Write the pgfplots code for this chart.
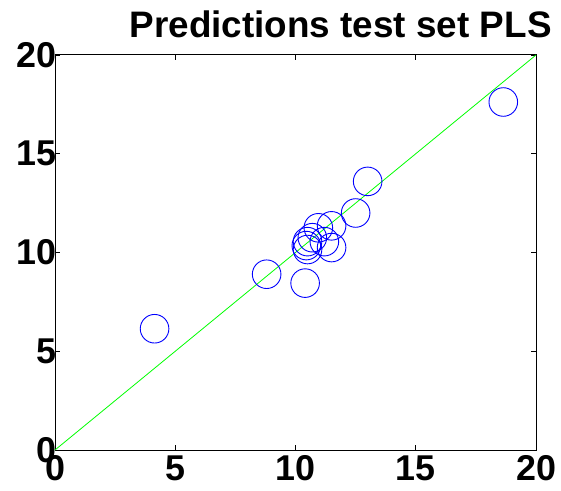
\documentclass[border=0pt]{standalone}
\usepackage{pgfplots}
\pgfplotsset{compat=1.18}
\usepackage{fontspec}
\setmainfont{Liberation Sans}
\begin{document}
\begin{tikzpicture}[x=1bp,y=1bp]
\path[use as bounding box] (-55bp,-41bp) rectangle (506bp,450bp);
\begin{axis}[
  at={(0,0)}, anchor=south west,
  scale only axis, width=481bp, height=395bp,
  xmin=0, xmax=20, ymin=0, ymax=20,
  xtick={0,5,10,15,20}, ytick={0,5,10,15,20},
  tick align=inside, major tick length=5bp,
  axis line style={line width=1bp},
  tick style={black, line width=0.8bp},
  /pgf/number format/assume math mode=true,
  ticklabel style={font=\fontsize{36}{36}\bfseries\selectfont},
  xticklabel style={yshift=-2bp},
  yticklabel style={xshift=5bp},
  title={Predictions test set PLS},
  title style={font=\fontsize{37}{37}\bfseries\selectfont, at={(1.04,1)}, anchor=base east, yshift=12bp},
  clip=false,
]
\addplot[color={rgb,255:red,0;green,255;blue,0}, line width=0.8bp] coordinates {(0,0) (20,20)};
\addplot[only marks, mark=o, mark size=14.3bp, color=blue, mark options={line width=0.9bp}] coordinates {
(4.14,6.14) (8.8,8.9) (10.4,8.45) (13.0,13.6) (18.64,17.62) (12.5,12.0)
(11.5,11.35) (10.95,11.25) (11.5,10.25) (11.2,10.55) (10.5,10.55) (10.45,10.35) (10.5,10.15) (10.7,10.75)
};
\end{axis}
\end{tikzpicture}
\end{document}
